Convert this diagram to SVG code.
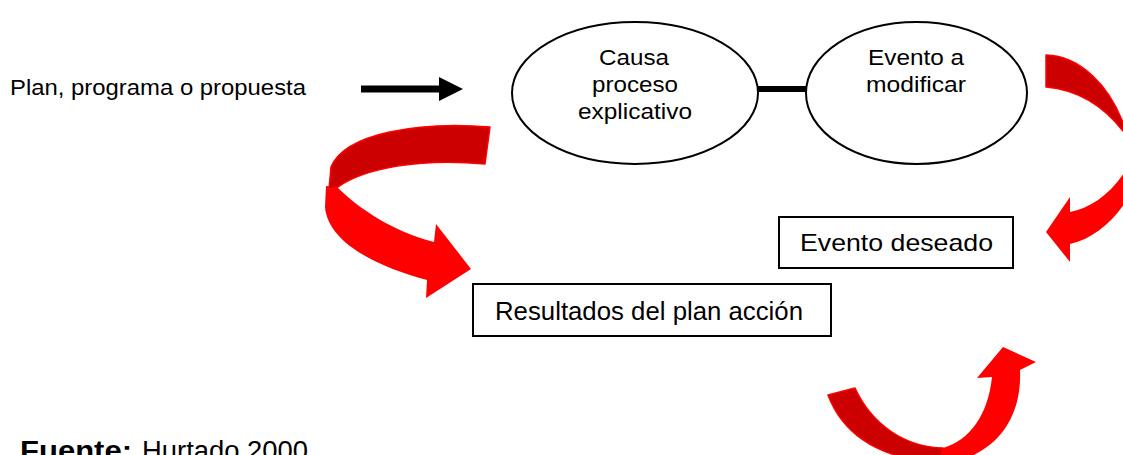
<svg xmlns="http://www.w3.org/2000/svg" width="1123" height="455" viewBox="0 0 1123 455">
  <style>
    .t { font-family: "Liberation Sans", Arial, sans-serif; fill: #000; }
    .node { fill: #fff; stroke: #000; stroke-width: 2; }
    .dark { fill: #cc0000; stroke: #ff0000; stroke-width: 1.5; stroke-linejoin: round; }
    .light { fill: #ff0000; stroke: none; }
  </style>
  <rect width="1123" height="455" fill="#fff"/>

  <g id="connectors">
    <path d="M361,85.5 H439 V77 L463,89 L439,101 V92.5 H361 Z" fill="#000"/>
    <rect x="757" y="86" width="50" height="6" fill="#000"/>
    <g id="curved-arrow-left">
      <path class="light" d="M337,187 C360,210 395,232 434,242 L436,224 L471,269 L426,298 L427,280 C375,266 328,242 325,207 L326,186 Z"/>
      <path class="dark" d="M490,127 C420,121 345,133 331,167 L329,189 L338,187 C365,168 420,158 485,164 Z"/>
    </g>
    <g id="curved-arrow-right">
      <path class="dark" d="M1046,55 C1080,56 1110,85 1125,128 L1123,131 C1105,108 1080,90 1046,87 Z"/>
      <path class="light" d="M1126,170 C1110,195 1090,208 1070,212 L1070,197 L1046,232 L1070,262 L1070,244 C1095,238 1115,220 1130,195 Z"/>
    </g>
    <g id="curved-arrow-bottom">
      <path class="light" d="M943,448 C970,440 988,415 992,377 L977,378 L1003,347 L1036,362 L1020,370 C1022,415 1000,450 955,462 L940,462 Z"/>
      <path class="dark" d="M828,395 C842,432 875,455 920,460 L940,460 L943,448 C905,447 872,425 855,388 Z"/>
    </g>
  </g>

  <g id="label-plan">
    <text class="t" x="10" y="95" font-size="22" textLength="296" lengthAdjust="spacingAndGlyphs">Plan, programa o propuesta</text>
  </g>

  <g id="node-causa">
    <ellipse class="node" cx="635" cy="93" rx="123" ry="71"/>
    <text class="t" x="599" y="65" font-size="22" textLength="70" lengthAdjust="spacingAndGlyphs">Causa</text>
    <text class="t" x="592" y="92" font-size="22" textLength="86" lengthAdjust="spacingAndGlyphs">proceso</text>
    <text class="t" x="578" y="119" font-size="22" textLength="114" lengthAdjust="spacingAndGlyphs">explicativo</text>
  </g>

  <g id="node-evento-modificar">
    <ellipse class="node" cx="916.5" cy="93" rx="110.5" ry="71"/>
    <text class="t" x="868" y="65" font-size="22" textLength="96" lengthAdjust="spacingAndGlyphs">Evento a</text>
    <text class="t" x="866" y="92" font-size="22" textLength="100" lengthAdjust="spacingAndGlyphs">modificar</text>
  </g>

  <g id="node-evento-deseado">
    <rect class="node" x="779" y="217" width="234" height="51" stroke-width="1.5"/>
    <text class="t" x="800" y="251" font-size="24" textLength="193" lengthAdjust="spacingAndGlyphs">Evento deseado</text>
  </g>

  <g id="node-resultados">
    <rect class="node" x="473" y="284" width="358" height="52" stroke-width="1.5"/>
    <text class="t" x="495" y="320" font-size="25" textLength="308" lengthAdjust="spacingAndGlyphs">Resultados del plan acción</text>
  </g>

  <g id="label-fuente">
    <text class="t" x="20" y="460" font-size="27" font-weight="bold" textLength="112" lengthAdjust="spacingAndGlyphs">Fuente:</text>
    <text class="t" x="142" y="460" font-size="27" textLength="166" lengthAdjust="spacingAndGlyphs">Hurtado 2000</text>
  </g>
</svg>
